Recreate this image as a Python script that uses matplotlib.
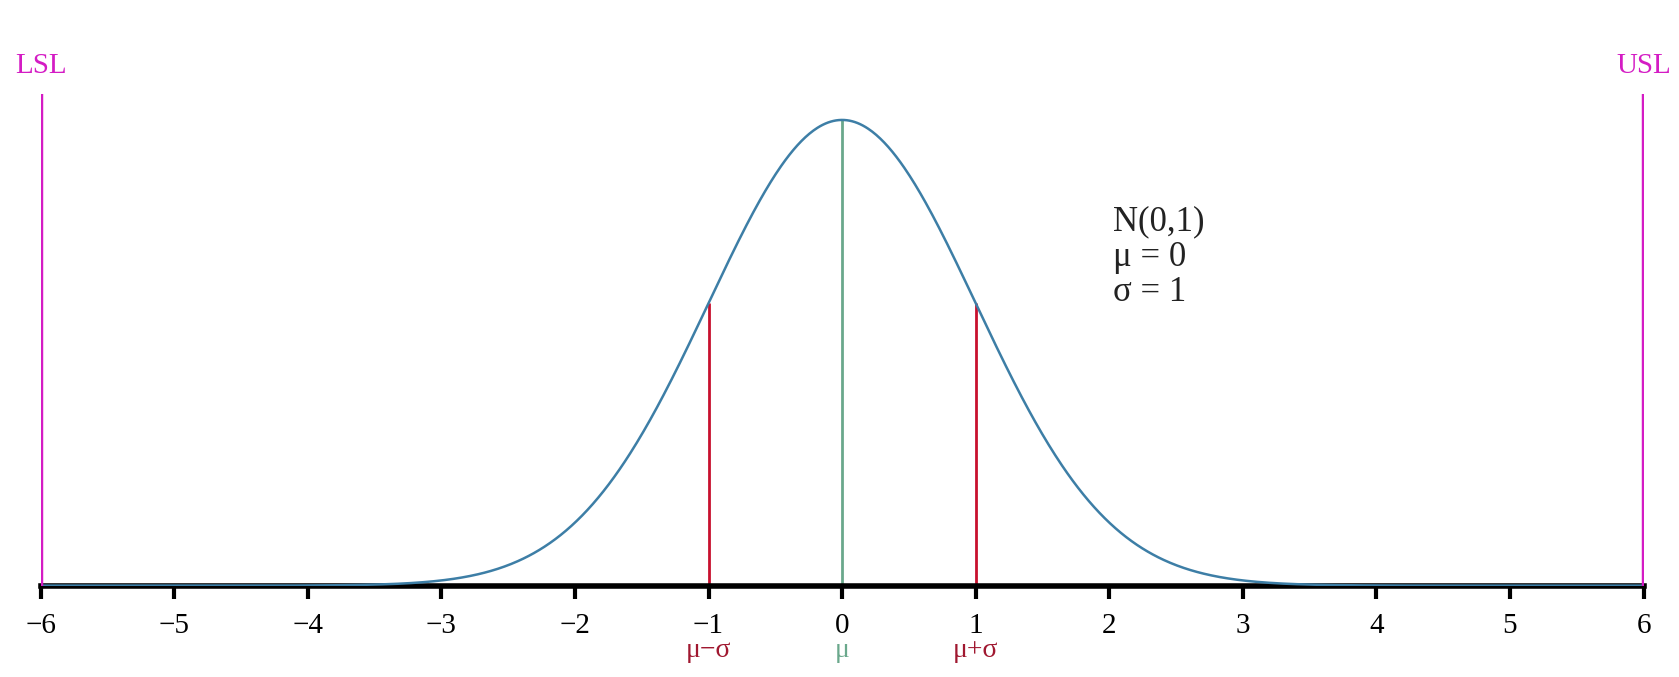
import numpy as np
import matplotlib.pyplot as plt

plt.rcParams['font.family'] = ['Liberation Serif', 'DejaVu Serif']
plt.rcParams['axes.unicode_minus'] = True

# distribution and limits
mu = 0.0
sigma = 1.0
lsl = -6
usl = 6
x_ticks = [-6, -5, -4, -3, -2, -1, 0, 1, 2, 3, 4, 5, 6]
sigma_marks = [-1, 0, 1]
sigma_labels = ['\u03bc\u2212\u03c3', '\u03bc', '\u03bc+\u03c3']
info_lines = ['N(0,1)', '\u03bc = 0', '\u03c3 = 1']

curve_col = '#3d7ea6'
spec_col = '#d41cc4'
red_col = '#c8102e'
mean_col = '#6aa88c'
label_cols = ['#a01830', '#6aa88c', '#a01830']

def pdf(x):
    return np.exp(-0.5 * ((x - mu) / sigma) ** 2) / (sigma * np.sqrt(2 * np.pi))

fig = plt.figure(figsize=(16.79, 6.77), dpi=100)
ax = fig.add_axes([0.0242, 0.135, 0.9547, 0.865])

xs = np.linspace(lsl, usl, 1200)
ax.plot(xs, pdf(xs), color=curve_col, lw=1.8, zorder=3)

# mean and +-sigma lines
for m, c in zip(sigma_marks, [red_col, mean_col, red_col]):
    ax.vlines(mu + m * sigma, 0, pdf(mu + m * sigma), color=c, lw=2.0, zorder=2)

# spec limits
ax.vlines([lsl, usl], 0, 0.4212, color=spec_col, lw=3.2, zorder=4)
ax.text(lsl, 0.445, 'LSL', color=spec_col, fontsize=21, ha='center', va='center')
ax.text(usl, 0.445, 'USL', color=spec_col, fontsize=21, ha='center', va='center')

ax.text(2.03, 0.326, '\n'.join(info_lines), fontsize=25, ha='left', va='top',
        linespacing=1.1, color='#222222')

for m, lab, c in zip(sigma_marks, sigma_labels, label_cols):
    ax.annotate(lab, xy=(mu + m * sigma, 0), xytext=(0, -47), textcoords='offset points',
                ha='center', va='center', fontsize=20, color=c, annotation_clip=False)

ax.set_xlim(lsl, usl)
ax.set_ylim(0, 0.5017)
ax.set_xticks(x_ticks)
ax.set_xticklabels([f'{t}'.replace('-', '\u2212') for t in x_ticks])
ax.set_yticks([])
for s in ['top', 'left', 'right']:
    ax.spines[s].set_visible(False)
ax.spines['bottom'].set_linewidth(4)
ax.tick_params(axis='x', length=9, width=3, labelsize=21, pad=11, direction='out')

fig.savefig('out.png', dpi=100)
